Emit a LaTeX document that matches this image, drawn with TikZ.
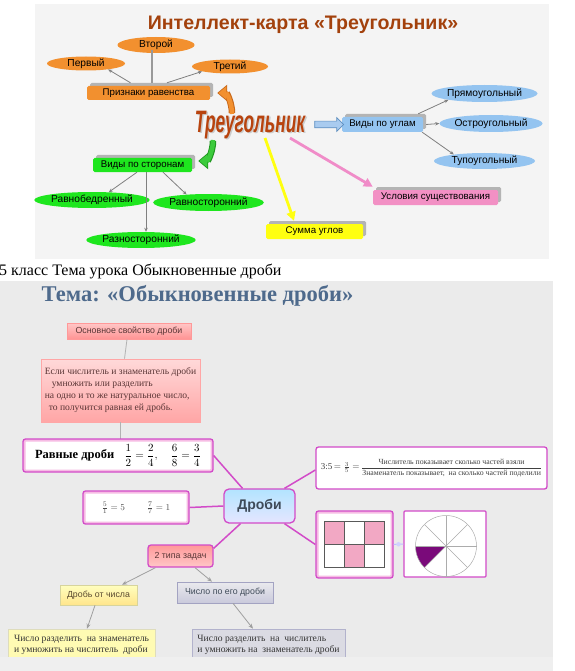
\documentclass[tikz,border=0pt]{standalone}
\usepackage{amsmath}
\usepackage{graphicx}
\usepackage{fontspec}
\setmainfont{Liberation Serif}
\setsansfont{Liberation Sans}
\usetikzlibrary{shapes.geometric,shapes.arrows,arrows.meta,shadows}
\definecolor{topbg}{HTML}{F4F4F4}
\definecolor{titlebrown}{HTML}{A3410C}
\definecolor{orfill}{HTML}{F2902F}
\definecolor{ordark}{HTML}{C8681A}
\definecolor{grfill}{HTML}{1EE61E}
\definecolor{grarrow}{HTML}{3CCB3C}
\definecolor{grdark}{HTML}{1E961E}
\definecolor{blfill}{HTML}{94C4F0}
\definecolor{blarrow}{HTML}{A9CBEF}
\definecolor{bldark}{HTML}{5E8FC0}
\definecolor{pkfill}{HTML}{F290C4}
\definecolor{pkarrow}{HTML}{F08CC8}
\definecolor{yefill}{HTML}{FFFF10}
\definecolor{trired}{HTML}{B8430E}
\definecolor{shadowg}{HTML}{B4B4B4}
\definecolor{conng}{HTML}{7F7F7F}
\definecolor{botbg}{HTML}{EBEBEB}
\definecolor{botstrip}{HTML}{EFEFEF}
\definecolor{temablue}{HTML}{4E6A8C}
\definecolor{magen}{HTML}{D24BC8}
\definecolor{glow}{HTML}{F6BCE4}
\definecolor{redtext}{HTML}{5A3535}
\definecolor{slate}{HTML}{3E4A58}
\definecolor{olive}{HTML}{5A4A30}
\definecolor{cellpink}{HTML}{F2A8C4}
\definecolor{sectorpurple}{HTML}{7A0A7A}
\begin{document}
\begin{tikzpicture}[x=1pt,y=-1pt,
  tshadow/.style={general shadow={shadow xshift=3pt,shadow yshift=3pt,fill=shadowg}},
  topbox/.style={rectangle,rounded corners=1.5pt,inner sep=0pt,font=\sffamily\fontsize{9.7}{10}\selectfont,tshadow},
  topell/.style={ellipse,inner sep=0pt,font=\sffamily\fontsize{10.2}{11}\selectfont},
  tconn/.style={draw=conng,line width=0.8pt,-{Stealth[length=4pt,width=3.5pt]}},
  tline/.style={draw=conng!80,line width=1.3pt},
  triword/.style={font=\sffamily\bfseries\itshape\fontsize{31}{33}\selectfont,inner sep=2pt},
  magline/.style={draw=magen,line width=1.5pt},
  mbox/.style={rectangle,rounded corners=2.5pt,draw=magen,line width=1.3pt,fill=white,inner sep=0pt},
  glowbox/.style={mbox,path picture={\draw[glow,line width=5pt] (path picture bounding box.south west) rectangle (path picture bounding box.north east);}},
  garrow/.style={draw=gray!75,line width=0.8pt,-{Stealth[length=5pt,width=4pt]}},
  gline/.style={draw=gray!60,line width=0.8pt},
  btext/.style={font=\sffamily\fontsize{8.8}{10}\selectfont,inner sep=0pt}
]
\useasboundingbox (0,0) rectangle (574,671);
\fill[white] (0,0) rectangle (574,671);
% ---------------- top panel ----------------
\fill[topbg] (35,4) rectangle (549,259);
\node[font=\sffamily\bfseries\fontsize{19.6}{21}\selectfont,text=titlebrown] (ttl) at (303,25) {Интеллект-карта «Треугольник»};

\node[topell,fill=orfill,minimum width=77,minimum height=16] (vtoroi) at (156,45) {Второй};
\node[topell,fill=orfill,minimum width=78,minimum height=14] (perv) at (86,63.5) {Первый};
\node[topell,fill=orfill,minimum width=76,minimum height=14] (tret) at (230,66.5) {Третий};
\node[topbox,fill=orfill,minimum width=123,minimum height=14] (priz) at (148.5,93) {Признаки равенства};

\draw[tconn] ([shift={(-18pt,3pt)}]priz.north) -- (perv.-15);
\draw[tline] ([shift={(3.5pt,3pt)}]priz.north) -- ([shift={(3.5pt,3pt)}]priz.north |- vtoroi.south);
\draw[tconn] ([shift={(18.5pt,3pt)}]priz.north) -- (tret.190);

\node[triword,text=gray!40] (trish) at (251.5,126.5) {\scalebox{0.56}[1]{Треугольник}};
\node[triword,text=trired] (tri) at (250,125) {\scalebox{0.56}[1]{Треугольник}};

\node[topbox,fill=grfill,minimum width=99,minimum height=14] (storon) at (142.5,165) {Виды по сторонам};
\node[topell,fill=grfill,minimum width=100,minimum height=16] (ravnobed) at (92,200) {Равнобедренный};
\node[topell,fill=grfill,minimum width=101,minimum height=17] (ravnostor) at (208.5,202.5) {Равносторонний};
\node[topell,fill=grfill,minimum width=102,minimum height=16] (raznostor) at (141,240) {Разносторонний};
\draw[tconn] ([xshift=-5.5pt]storon.south) -- (ravnobed.25);
\draw[tconn] ([xshift=3.5pt]storon.south) -- ([xshift=3.5pt]storon.south |- raznostor.north);
\draw[tconn] ([xshift=20.5pt]storon.south) -- (ravnostor.160);

\node[topbox,fill=blfill,minimum width=81,minimum height=15] (uglam) at (382.5,124.5) {Виды по углам};
\node[topell,fill=blfill,minimum width=101,minimum height=17] (pryamo) at (484.5,93.5) {Прямоугольный};
\node[topell,fill=blfill,minimum width=98,minimum height=17] (ostro) at (491,123.5) {Остроугольный};
\node[topell,fill=blfill,minimum width=101,minimum height=16] (tupo) at (484.5,161) {Тупоугольный};
\draw[tconn] ([shift={(-5pt,3pt)}]uglam.north east) -- (pryamo.190);
\draw[tconn] ([xshift=3pt]uglam.east) -- (ostro.west);
\draw[tconn] ([xshift=-1pt]uglam.south east) -- (tupo.168);

\node[topbox,fill=pkfill,minimum width=125,minimum height=15] (usl) at (435.5,197.5) {Условия существования};
\node[topbox,fill=yefill,minimum width=97,minimum height=15] (summa) at (314.5,231.5) {Сумма углов};

\node[single arrow,draw=bldark,fill=blarrow,line width=0.7pt,minimum height=29pt,inner xsep=0pt,inner ysep=3pt,single arrow head extend=3.5pt] (barrow) at (327.5,124.5) {};

\draw[draw=ordark,line width=6.5pt,-{Triangle[width=16pt,length=10pt]}] ([shift={(-18pt,12pt)}]tri.center) to[out=90,in=0] ([xshift=7pt]priz.east);
\draw[draw=orfill,line width=4.5pt,shorten >=1.2pt,-{Triangle[width=12.5pt,length=8pt]}] ([shift={(-18pt,11pt)}]tri.center) to[out=90,in=0] ([xshift=7pt]priz.east);
\draw[draw=grdark,line width=6.5pt,-{Triangle[width=16pt,length=10pt]}] ([shift={(-37pt,-16pt)}]tri.center) to[out=-90,in=0] ([shift={(6pt,4pt)}]storon.east);
\draw[draw=grarrow,line width=4.5pt,shorten >=1.2pt,-{Triangle[width=12.5pt,length=8pt]}] ([shift={(-37pt,-15pt)}]tri.center) to[out=-90,in=0] ([shift={(6pt,4pt)}]storon.east);

\draw[draw=yefill,line width=2.8pt,-{Triangle[width=9pt,length=9pt]}] ([shift={(15pt,-13pt)}]tri.center) -- ([shift={(-20.5pt,3pt)}]summa.north);
\draw[draw=pkarrow,line width=2.8pt,-{Triangle[width=9pt,length=9pt]}] ([shift={(40pt,-13pt)}]tri.center) -- ([yshift=3pt]usl.north west);

% ---------------- caption line ----------------
\node[font=\fontsize{16}{18}\selectfont,anchor=west,inner sep=0pt] (cls) at (-1,271) {5 класс Тема урока Обыкновенные дроби};

% ---------------- bottom panel ----------------
\fill[botbg] (0,281) rectangle (553,660);
\node[font=\bfseries\fontsize{22.5}{24}\selectfont,text=temablue] (tema) at (197.5,296) {Тема: «Обыкновенные дроби»};

\node[rectangle,top color=red!22,bottom color=red!42,draw=red!40,line width=0.6pt,minimum width=124,minimum height=16,font=\sffamily\fontsize{8.8}{10}\selectfont,text=redtext,inner sep=0pt] (osn) at (129,331) {Основное свойство дроби};
\node[rectangle,top color=red!15,bottom color=red!35,draw=red!35,line width=0.6pt,minimum width=159,minimum height=63,font=\fontsize{9.6}{12}\selectfont,text=redtext,align=left,inner sep=0pt] (big) at (120.5,390.5) {Если числитель и знаменатель дроби\\\hspace{7pt}умножить или разделить\\на одно и то же натуральное число,\\\hspace{4pt}то получится равная ей дробь.};
\draw[gline] ([xshift=-2pt]osn.south) -- ([xshift=4pt]big.north);
\draw[gline] (big.south) -- (big.south |- 0,439);

\node[glowbox,minimum width=190,minimum height=33] (ravn) at (118,455.5) {{\fontsize{12.5}{14}\selectfont\bfseries Равные дроби}\quad{\fontsize{11}{13}\selectfont$\displaystyle\frac{1}{2}=\frac{2}{4},\quad \frac{6}{8}=\frac{3}{4}$}};
\node[glowbox,minimum width=106,minimum height=33,text=black!70] (small) at (136,507.5) {\fontsize{9.5}{11}\selectfont$\frac{5}{1}=5$\hspace{22pt}$\frac{7}{7}=1$};
\node[rectangle,rounded corners=5pt,top color=blue!35!cyan!30,bottom color=blue!10,draw=magen,line width=1.3pt,minimum width=71,minimum height=34,font=\sffamily\bfseries\fontsize{14}{16}\selectfont,text=slate,inner sep=0pt] (drobi) at (259.5,506) {Дроби};
\node[mbox,minimum width=231,minimum height=42,text=black!75] (frbox) at (431.5,468) {{\fontsize{9}{10}\selectfont 3:5\,$=\frac{3}{5}=$}\,{\fontsize{7.8}{9}\selectfont$\dfrac{\mbox{Числитель показывает сколько частей взяли}}{\mbox{Знаменатель показывает,\ \ на сколько частей поделили}}$}};
\node[glowbox,minimum width=77,minimum height=67] (gridbox) at (354.5,544.5) {};
\node[mbox,rounded corners=1pt,minimum width=82,minimum height=66] (circbox) at (445,544) {};
\node[rectangle,rounded corners=3pt,top color=red!40,bottom color=red!22,draw=magen,line width=1.3pt,minimum width=65,minimum height=22,font=\sffamily\fontsize{8.8}{10}\selectfont,text=redtext,inner sep=0pt] (tipy) at (180.5,556) {2 типа задач};

\draw[magline] (ravn.east) -- ([xshift=-17pt]drobi.north);
\draw[magline] (small.east) -- (drobi.west);
\draw[magline] ([xshift=25pt]drobi.north) -- ([yshift=-2pt]frbox.west);
\draw[magline] ([xshift=25pt]drobi.south) -- (gridbox.west);
\draw[magline] ([xshift=-19pt]drobi.south) -- ([yshift=-4pt]tipy.north east);
\path[draw=blue!25,line width=1pt] (gridbox.east) -- (circbox.west) node[midway,circle,fill=blue!18,inner sep=1.6pt] (dot) {};

% grid of fractions
\fill[cellpink] (324,521) rectangle (344,544);
\fill[cellpink] (364,521) rectangle (384,544);
\fill[cellpink] (344,544) rectangle (364,567);
\draw[black!65,line width=0.8pt] (324,521) rectangle (384,567);
\draw[black!65,line width=0.8pt] (344,521) -- (344,567) (364,521) -- (364,567) (324,544) -- (384,544);
% pie
\coordinate (cc) at (446,546);
\fill[sectorpurple] (cc) -- +(180:30.5pt) arc[start angle=180,end angle=225,radius=30.5pt] -- cycle;
\draw[gray!65,line width=0.5pt] (cc) circle[radius=30.5pt];
\foreach \a in {0,45,90,135} \draw[gray!65,line width=0.5pt] (cc) +(\a:30.5pt) -- +(\a+180:30.5pt);

\node[rectangle,top color=yellow!25,bottom color=yellow!55!orange!45,draw=yellow!60!black!45,line width=0.6pt,minimum width=77,minimum height=20,font=\sffamily\fontsize{8.8}{10}\selectfont,text=olive,inner sep=0pt] (drob1) at (98.5,595) {Дробь от числа};
\node[rectangle,top color=blue!10!gray!15,bottom color=blue!20!gray!35,draw=blue!20!gray!60,line width=0.6pt,minimum width=96,minimum height=21,font=\sffamily\fontsize{8.8}{10}\selectfont,text=slate,inner sep=0pt] (chislo) at (225,592.5) {Число по его дроби};
\node[rectangle,fill=yellow!30,draw=yellow!50!black!30,line width=0.6pt,minimum width=147,minimum height=32,font=\fontsize{9.6}{10.5}\selectfont,text=black!80,align=left,inner sep=0pt] (bl) at (81.5,645) {Число разделить\ \ на знаменатель\\и умножить на числитель\ \ дроби};
\node[rectangle,fill=blue!12!gray!25,draw=blue!20!gray!50,line width=0.6pt,minimum width=153,minimum height=32,font=\fontsize{9.6}{10.5}\selectfont,text=black!80,align=left,inner sep=0pt] (br) at (268.5,645) {Число разделить\ \ на\ \ числитель\\и умножить на\ \ знаменатель дроби};

\draw[garrow] ([xshift=-25pt]tipy.south) -- ([xshift=23.5pt]drob1.north);
\draw[garrow] ([xshift=14.5pt]tipy.south) -- ([xshift=-13pt]chislo.north);
\draw[garrow] ([xshift=-3.5pt]drob1.south) -- ([xshift=5.5pt]bl.north);
\draw[garrow] ([xshift=8pt]chislo.south) -- ([xshift=-15.5pt]br.north);

\fill[botstrip] (0,657) rectangle (553,671);
\end{tikzpicture}
\end{document}
